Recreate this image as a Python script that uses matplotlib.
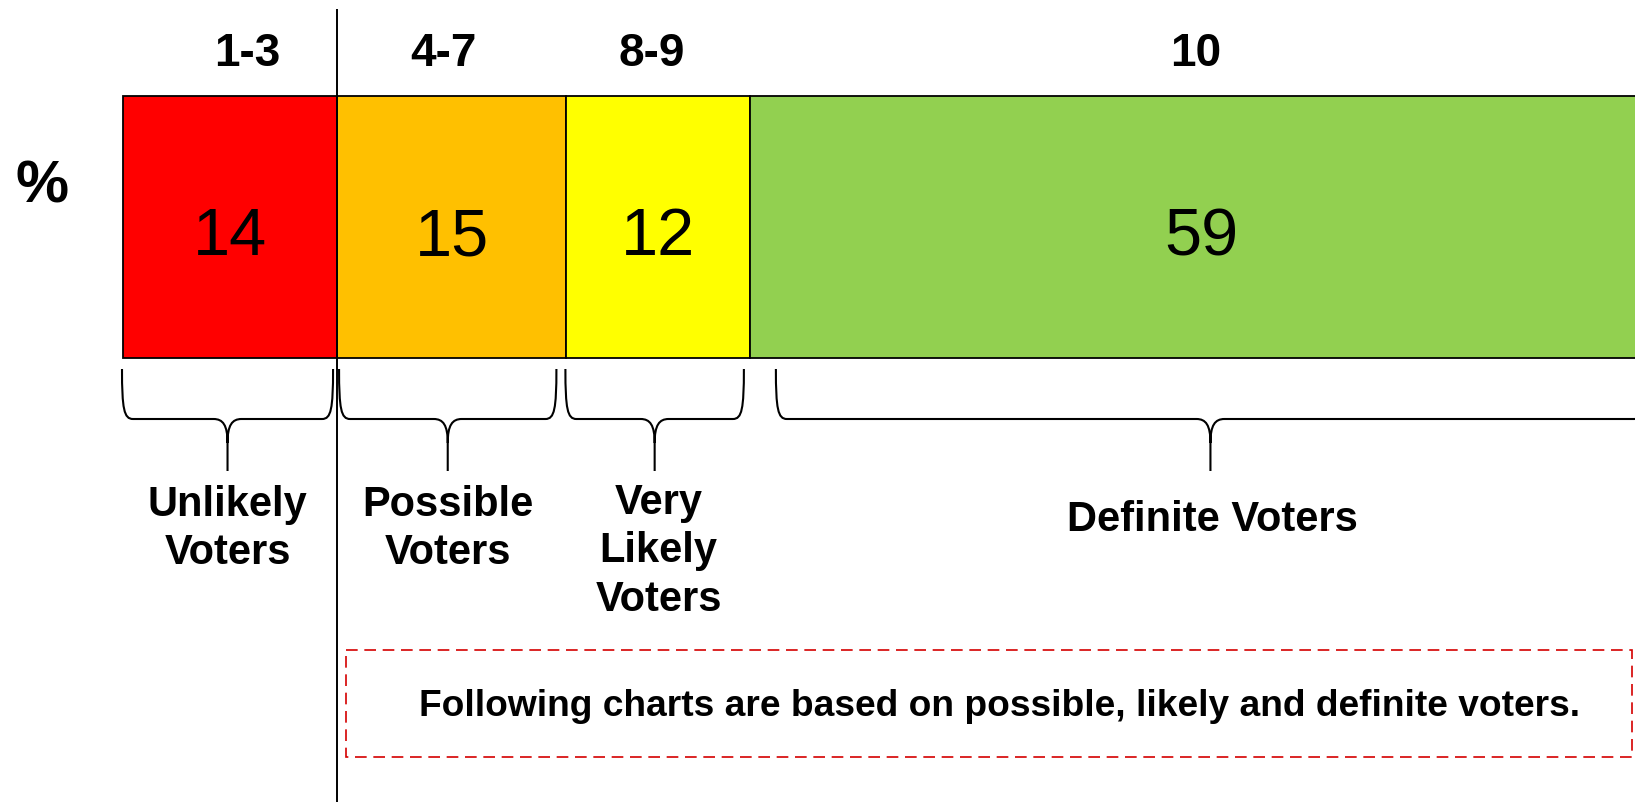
import matplotlib
matplotlib.use("Agg")
import matplotlib.pyplot as plt
from matplotlib.path import Path
from matplotlib.patches import PathPatch, Rectangle
import numpy as np

# ── data ────────────────────────────────────────────────────────────────────
score_bands = ["1-3", "4-7", "8-9", "10"]
shares = [14, 15, 12, 59]
voter_groups = ["Unlikely\nVoters", "Possible\nVoters",
                "Very\nLikely\nVoters", "Definite Voters"]
colors = ["#FF0000", "#FFC000", "#FFFF00", "#92D050"]
note = "Following charts are based on possible, likely and definite voters."

# ── layout (pixels) ─────────────────────────────────────────────────────────
W, H = 1635, 802
X0 = 123            # pixel where 0 % sits
PX = 15.29          # pixels per percentage point
BOLD = ["Liberation Sans", "DejaVu Sans"]
NARROW = ["Liberation Sans Narrow", "Liberation Sans", "DejaVu Sans"]


def px(v):
    """pixel distance -> data units along x"""
    return v / PX


def brace(ax, xa, xb, xc, top=369, mid=419, tip=471):
    r, w = px(11), px(14)
    verts = [
        (xa, top), (xa, mid - 10), (xa + px(2), mid), (xa + r, mid),
        (xc - w, mid),
        (xc - w / 3, mid), (xc, mid + 6), (xc, mid + 24),
        (xc, tip),
        (xc, mid + 24), (xc, mid + 6), (xc + w / 3, mid), (xc + w, mid),
        (xb - r, mid),
        (xb - px(2), mid), (xb, mid - 10), (xb, top),
    ]
    codes = [Path.MOVETO, Path.CURVE4, Path.CURVE4, Path.CURVE4,
             Path.LINETO,
             Path.CURVE4, Path.CURVE4, Path.CURVE4,
             Path.LINETO,
             Path.MOVETO, Path.CURVE4, Path.CURVE4, Path.CURVE4,
             Path.LINETO,
             Path.CURVE4, Path.CURVE4, Path.CURVE4]
    ax.add_patch(PathPatch(Path(verts, codes), fill=False, edgecolor="black",
                           lw=1.5, clip_on=False, capstyle="butt"))


fig = plt.figure(figsize=(W / 100, H / 100), dpi=100)
fig.patch.set_facecolor("white")
ax = fig.add_axes([0, 0, 1, 1])
ax.set_xlim(-px(X0), px(W - X0))
ax.set_ylim(H, 0)
ax.axis("off")

vals = np.array(shares, dtype=float)
lefts = np.concatenate([[0], np.cumsum(vals)[:-1]])
rights = lefts + vals
centers = lefts + vals / 2

# stacked bar
ax.barh(227, vals, left=lefts, height=262, color=colors,
        edgecolor="black", linewidth=1.3)

for c, v in zip(centers, shares):
    ax.text(c, 238, str(v), ha="center", va="center", fontsize=48,
            family=NARROW)

header_shift = [17, -8, -6, -5]
for c, lab, dx in zip(centers, score_bands, header_shift):
    ax.text(c + px(dx), 54, lab, ha="center", va="center", fontsize=33,
            fontweight="bold", family=BOLD)

ax.text(-px(X0 - 42), 187, "%", ha="center", va="center", fontsize=43,
        fontweight="bold", family=BOLD)

# divider between unlikely and the rest
ax.vlines(rights[0], 9, H, color="black", lw=1.4)

# braces under each block
left_inset = [-1, 2, -1, 26]
right_inset = [4, 10, 6, 7]
for i in range(len(shares)):
    xa = lefts[i] + px(left_inset[i])
    xb = rights[i] - px(right_inset[i])
    brace(ax, xa, xb, (xa + xb) / 2)

label_y = [485, 485, 483, 520]
label_va = ["top", "top", "top", "center"]
label_dx = [0, 0, 4, 2]
for i, lab in enumerate(voter_groups):
    xa = lefts[i] + px(left_inset[i])
    xb = rights[i] - px(right_inset[i])
    ax.text((xa + xb) / 2 + px(label_dx[i]), label_y[i], lab, ha="center",
            va=label_va[i], fontsize=30, fontweight="bold", family=BOLD,
            linespacing=1.27)

# note box
ax.add_patch(Rectangle((px(346 - X0), 650), px(1632 - 346), 107,
                       fill=False, edgecolor="#D40000", lw=1.2,
                       linestyle=(0, (7, 4)), clip_on=False))
ax.text(px(999 - X0), 707, note, ha="center", va="center", fontsize=26.7,
        fontweight="bold", family=BOLD)

fig.savefig("out.png", dpi=100, facecolor="white")
